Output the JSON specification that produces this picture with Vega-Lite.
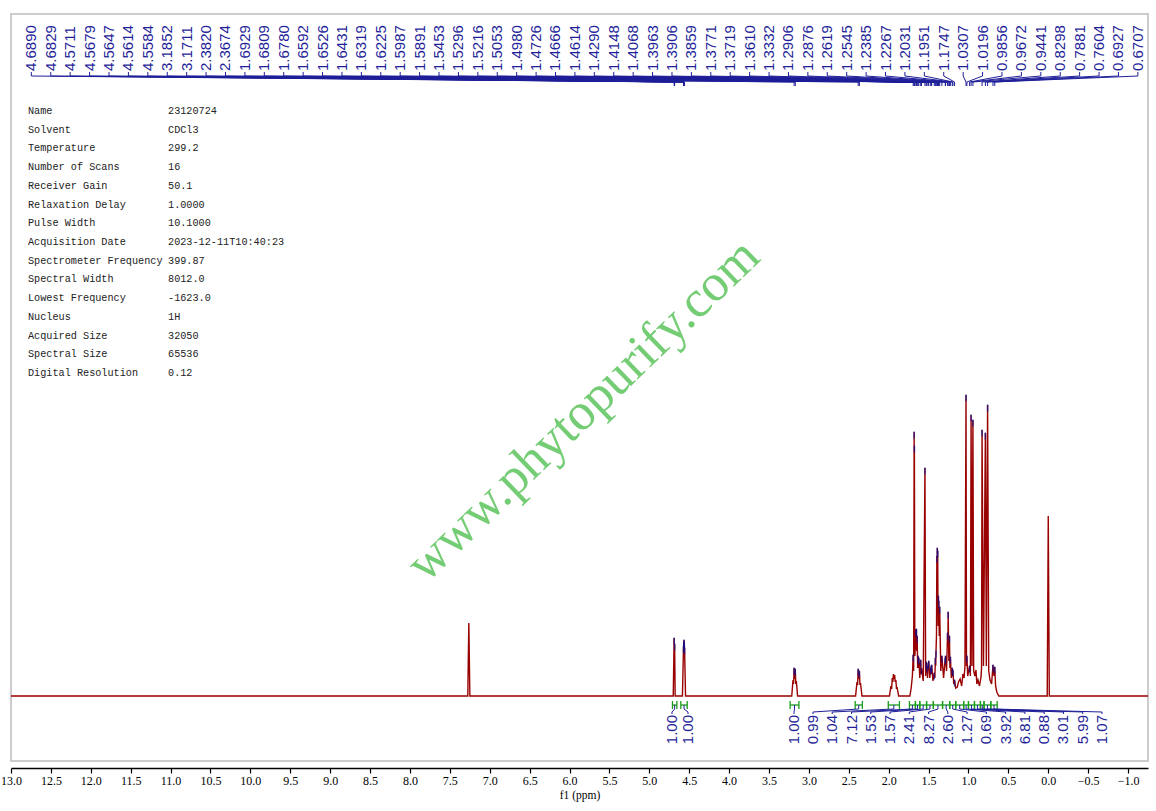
{
  "$schema": "https://vega.github.io/schema/vega-lite/v6.json",
  "width": 1137,
  "height": 747,
  "autosize": {"type": "none"},
  "padding": {"left": 11, "top": 14, "right": 8, "bottom": 50},
  "background": "white",
  "config": {"view": {"stroke": "#cccccc", "strokeWidth": 2}},
  "datasets": {
    "spectrum": [
      {"ppm": 13.0, "i": 0}, {"ppm": 7.275, "i": 0}, {"ppm": 7.262, "i": 73}, {"ppm": 7.249, "i": 0},
      {"ppm": 4.7, "i": 0}, {"ppm": 4.689, "i": 58}, {"ppm": 4.686, "i": 38}, {"ppm": 4.6829, "i": 52}, {"ppm": 4.676, "i": 0},
      {"ppm": 4.585, "i": 0}, {"ppm": 4.5711, "i": 50}, {"ppm": 4.5695, "i": 44}, {"ppm": 4.5679, "i": 54}, {"ppm": 4.5663, "i": 47},
      {"ppm": 4.5647, "i": 56}, {"ppm": 4.563, "i": 48}, {"ppm": 4.5614, "i": 53}, {"ppm": 4.5598, "i": 44}, {"ppm": 4.5584, "i": 48}, {"ppm": 4.546, "i": 0},
      {"ppm": 3.215, "i": 0}, {"ppm": 3.199, "i": 16}, {"ppm": 3.192, "i": 12}, {"ppm": 3.1852, "i": 28}, {"ppm": 3.178, "i": 17},
      {"ppm": 3.1711, "i": 27}, {"ppm": 3.164, "i": 12}, {"ppm": 3.157, "i": 15}, {"ppm": 3.142, "i": 0},
      {"ppm": 2.415, "i": 0}, {"ppm": 2.397, "i": 14}, {"ppm": 2.39, "i": 11}, {"ppm": 2.382, "i": 27}, {"ppm": 2.375, "i": 17},
      {"ppm": 2.3674, "i": 25}, {"ppm": 2.36, "i": 11}, {"ppm": 2.353, "i": 13}, {"ppm": 2.335, "i": 0},
      {"ppm": 1.99, "i": 0}, {"ppm": 1.972, "i": 10}, {"ppm": 1.963, "i": 7}, {"ppm": 1.955, "i": 18}, {"ppm": 1.948, "i": 14},
      {"ppm": 1.94, "i": 22}, {"ppm": 1.932, "i": 17}, {"ppm": 1.925, "i": 21}, {"ppm": 1.918, "i": 14}, {"ppm": 1.91, "i": 16},
      {"ppm": 1.902, "i": 7}, {"ppm": 1.895, "i": 9}, {"ppm": 1.875, "i": 0},
      {"ppm": 1.735, "i": 0}, {"ppm": 1.718, "i": 8}, {"ppm": 1.703, "i": 20}, {"ppm": 1.6929, "i": 41}, {"ppm": 1.687, "i": 25},
      {"ppm": 1.6809, "i": 264}, {"ppm": 1.6795, "i": 205}, {"ppm": 1.678, "i": 250}, {"ppm": 1.672, "i": 40}, {"ppm": 1.665, "i": 50},
      {"ppm": 1.6592, "i": 66}, {"ppm": 1.656, "i": 50}, {"ppm": 1.6526, "i": 67}, {"ppm": 1.648, "i": 45}, {"ppm": 1.6431, "i": 60},
      {"ppm": 1.637, "i": 28}, {"ppm": 1.6319, "i": 40}, {"ppm": 1.627, "i": 28}, {"ppm": 1.6225, "i": 38}, {"ppm": 1.61, "i": 18},
      {"ppm": 1.5987, "i": 36}, {"ppm": 1.594, "i": 22}, {"ppm": 1.5891, "i": 28}, {"ppm": 1.567, "i": 15}, {"ppm": 1.5453, "i": 228},
      {"ppm": 1.537, "i": 20}, {"ppm": 1.5296, "i": 34}, {"ppm": 1.5256, "i": 24}, {"ppm": 1.5216, "i": 30}, {"ppm": 1.513, "i": 18},
      {"ppm": 1.5053, "i": 33}, {"ppm": 1.502, "i": 26}, {"ppm": 1.498, "i": 35}, {"ppm": 1.485, "i": 18}, {"ppm": 1.4726, "i": 28},
      {"ppm": 1.4696, "i": 22}, {"ppm": 1.4666, "i": 30}, {"ppm": 1.464, "i": 24}, {"ppm": 1.4614, "i": 31}, {"ppm": 1.445, "i": 15},
      {"ppm": 1.429, "i": 23}, {"ppm": 1.421, "i": 18}, {"ppm": 1.4148, "i": 38}, {"ppm": 1.411, "i": 30}, {"ppm": 1.4068, "i": 45},
      {"ppm": 1.401, "i": 60}, {"ppm": 1.3963, "i": 140}, {"ppm": 1.393, "i": 120}, {"ppm": 1.3906, "i": 148}, {"ppm": 1.388, "i": 125},
      {"ppm": 1.3859, "i": 145}, {"ppm": 1.381, "i": 70}, {"ppm": 1.3771, "i": 100}, {"ppm": 1.375, "i": 80}, {"ppm": 1.3719, "i": 95},
      {"ppm": 1.366, "i": 60}, {"ppm": 1.361, "i": 89}, {"ppm": 1.347, "i": 25}, {"ppm": 1.3332, "i": 40}, {"ppm": 1.312, "i": 18},
      {"ppm": 1.2906, "i": 38}, {"ppm": 1.289, "i": 33}, {"ppm": 1.2876, "i": 40}, {"ppm": 1.275, "i": 25}, {"ppm": 1.2619, "i": 63},
      {"ppm": 1.258, "i": 50}, {"ppm": 1.2545, "i": 84}, {"ppm": 1.246, "i": 35}, {"ppm": 1.2385, "i": 60}, {"ppm": 1.232, "i": 28},
      {"ppm": 1.2267, "i": 39}, {"ppm": 1.215, "i": 18}, {"ppm": 1.2031, "i": 28}, {"ppm": 1.199, "i": 20}, {"ppm": 1.1951, "i": 26},
      {"ppm": 1.185, "i": 12}, {"ppm": 1.1747, "i": 16}, {"ppm": 1.16, "i": 8}, {"ppm": 1.14, "i": 9}, {"ppm": 1.125, "i": 14},
      {"ppm": 1.105, "i": 17}, {"ppm": 1.085, "i": 10}, {"ppm": 1.07, "i": 22}, {"ppm": 1.055, "i": 18}, {"ppm": 1.044, "i": 30},
      {"ppm": 1.0307, "i": 301}, {"ppm": 1.025, "i": 30}, {"ppm": 1.0196, "i": 40}, {"ppm": 1.01, "i": 20}, {"ppm": 0.9856, "i": 30},
      {"ppm": 0.976, "i": 20}, {"ppm": 0.9672, "i": 281}, {"ppm": 0.956, "i": 30}, {"ppm": 0.9441, "i": 276}, {"ppm": 0.935, "i": 25},
      {"ppm": 0.92, "i": 20}, {"ppm": 0.906, "i": 26}, {"ppm": 0.895, "i": 12}, {"ppm": 0.881, "i": 16}, {"ppm": 0.862, "i": 10},
      {"ppm": 0.843, "i": 19}, {"ppm": 0.836, "i": 28}, {"ppm": 0.8298, "i": 266}, {"ppm": 0.812, "i": 30}, {"ppm": 0.7881, "i": 263},
      {"ppm": 0.776, "i": 30}, {"ppm": 0.7604, "i": 291}, {"ppm": 0.746, "i": 25}, {"ppm": 0.73, "i": 16}, {"ppm": 0.71, "i": 12},
      {"ppm": 0.6927, "i": 31}, {"ppm": 0.681, "i": 20}, {"ppm": 0.6707, "i": 29}, {"ppm": 0.66, "i": 10}, {"ppm": 0.645, "i": 4},
      {"ppm": 0.62, "i": 0}, {"ppm": 0.013, "i": 0}, {"ppm": 0.0, "i": 180}, {"ppm": -0.013, "i": 0}, {"ppm": -1.25, "i": 0}
    ],
    "peaks": [
      {"ppm": 4.6890, "h": 58}, {"ppm": 4.6829, "h": 52}, {"ppm": 4.5711, "h": 50}, {"ppm": 4.5679, "h": 54}, {"ppm": 4.5647, "h": 56},
      {"ppm": 4.5614, "h": 53}, {"ppm": 4.5584, "h": 48}, {"ppm": 3.1852, "h": 28}, {"ppm": 3.1711, "h": 27}, {"ppm": 2.3820, "h": 27},
      {"ppm": 2.3674, "h": 25}, {"ppm": 1.6929, "h": 41}, {"ppm": 1.6809, "h": 264}, {"ppm": 1.6780, "h": 250}, {"ppm": 1.6592, "h": 66},
      {"ppm": 1.6526, "h": 67}, {"ppm": 1.6431, "h": 60}, {"ppm": 1.6319, "h": 40}, {"ppm": 1.6225, "h": 38}, {"ppm": 1.5987, "h": 36},
      {"ppm": 1.5891, "h": 28}, {"ppm": 1.5453, "h": 228}, {"ppm": 1.5296, "h": 34}, {"ppm": 1.5216, "h": 30}, {"ppm": 1.5053, "h": 33},
      {"ppm": 1.4980, "h": 35}, {"ppm": 1.4726, "h": 28}, {"ppm": 1.4666, "h": 30}, {"ppm": 1.4614, "h": 31}, {"ppm": 1.4290, "h": 23},
      {"ppm": 1.4148, "h": 38}, {"ppm": 1.4068, "h": 45}, {"ppm": 1.3963, "h": 140}, {"ppm": 1.3906, "h": 148}, {"ppm": 1.3859, "h": 145},
      {"ppm": 1.3771, "h": 100}, {"ppm": 1.3719, "h": 95}, {"ppm": 1.3610, "h": 89}, {"ppm": 1.3332, "h": 40}, {"ppm": 1.2906, "h": 38},
      {"ppm": 1.2876, "h": 40}, {"ppm": 1.2619, "h": 63}, {"ppm": 1.2545, "h": 84}, {"ppm": 1.2385, "h": 60}, {"ppm": 1.2267, "h": 39},
      {"ppm": 1.2031, "h": 28}, {"ppm": 1.1951, "h": 26}, {"ppm": 1.1747, "h": 16}, {"ppm": 1.0307, "h": 301}, {"ppm": 1.0196, "h": 40},
      {"ppm": 0.9856, "h": 30}, {"ppm": 0.9672, "h": 281}, {"ppm": 0.9441, "h": 276}, {"ppm": 0.8298, "h": 266}, {"ppm": 0.7881, "h": 263},
      {"ppm": 0.7604, "h": 291}, {"ppm": 0.6927, "h": 31}, {"ppm": 0.6707, "h": 29}
    ],
    "integrals": [
      {"from": 4.71, "to": 4.655, "value": 1.00}, {"from": 4.605, "to": 4.525, "value": 1.00}, {"from": 3.235, "to": 3.125, "value": 1.00},
      {"from": 2.42, "to": 2.33, "value": 0.99}, {"from": 2.005, "to": 1.865, "value": 1.04}, {"from": 1.74, "to": 1.665, "value": 7.12},
      {"from": 1.665, "to": 1.61, "value": 1.53}, {"from": 1.61, "to": 1.525, "value": 1.57}, {"from": 1.525, "to": 1.44, "value": 2.41},
      {"from": 1.44, "to": 1.325, "value": 8.27}, {"from": 1.325, "to": 1.235, "value": 2.60}, {"from": 1.235, "to": 1.16, "value": 1.27},
      {"from": 1.16, "to": 1.06, "value": 0.69}, {"from": 1.06, "to": 1.0, "value": 3.92}, {"from": 1.0, "to": 0.925, "value": 6.81},
      {"from": 0.925, "to": 0.85, "value": 0.88}, {"from": 0.85, "to": 0.805, "value": 3.01}, {"from": 0.805, "to": 0.72, "value": 5.99},
      {"from": 0.72, "to": 0.64, "value": 1.07}
    ],
    "params": [
      {"k": "Name", "v": "23120724"},
      {"k": "Solvent", "v": "CDCl3"},
      {"k": "Temperature", "v": "299.2"},
      {"k": "Number of Scans", "v": "16"},
      {"k": "Receiver Gain", "v": "50.1"},
      {"k": "Relaxation Delay", "v": "1.0000"},
      {"k": "Pulse Width", "v": "10.1000"},
      {"k": "Acquisition Date", "v": "2023-12-11T10:40:23"},
      {"k": "Spectrometer Frequency", "v": "399.87"},
      {"k": "Spectral Width", "v": "8012.0"},
      {"k": "Lowest Frequency", "v": "-1623.0"},
      {"k": "Nucleus", "v": "1H"},
      {"k": "Acquired Size", "v": "32050"},
      {"k": "Spectral Size", "v": "65536"},
      {"k": "Digital Resolution", "v": "0.12"}
    ]
  },
  "layer": [
    {
      "data": {"name": "spectrum"},
      "mark": {"type": "line", "color": "#990000", "strokeWidth": 1.4},
      "encoding": {
        "x": {
          "field": "ppm", "type": "quantitative", "title": "f1 (ppm)",
          "scale": {"domain": [13, -1.25], "nice": false, "zero": false},
          "axis": {
            "values": [13, 12.75, 12.5, 12.25, 12, 11.75, 11.5, 11.25, 11, 10.75, 10.5, 10.25, 10, 9.75, 9.5, 9.25, 9, 8.75, 8.5, 8.25, 8, 7.75, 7.5, 7.25, 7, 6.75, 6.5, 6.25, 6, 5.75, 5.5, 5.25, 5, 4.75, 4.5, 4.25, 4, 3.75, 3.5, 3.25, 3, 2.75, 2.5, 2.25, 2, 1.75, 1.5, 1.25, 1, 0.75, 0.5, 0.25, 0, -0.25, -0.5, -0.75, -1, -1.25],
            "labelExpr": "datum.value % 0.5 == 0 ? format(datum.value, '.1f') : ''",
            "offset": 7,
            "grid": false,
            "domainColor": "#000000",
            "domainWidth": 1.5,
            "tickColor": "#000000",
            "tickWidth": 1.2,
            "tickSize": {"condition": {"test": "datum.value % 0.5 == 0", "value": 5}, "value": 3},
            "labelFont": "Liberation Serif",
            "labelFontSize": 12,
            "labelColor": "#000000",
            "labelPadding": 2,
            "labelOverlap": false,
            "labelFlush": false,
            "titleFont": "Liberation Serif",
            "titleFontSize": 11.5,
            "titleFontWeight": "normal",
            "titleColor": "#000000",
            "titlePadding": 3
          }
        },
        "y": {"field": "i", "type": "quantitative", "axis": null, "scale": {"domain": [-65, 682], "nice": false, "zero": false}}
      }
    },
    {
      "data": {"values": [{"t": "www.phytopurify.com"}]},
      "mark": {"type": "text", "font": "Liberation Serif", "fontSize": 52, "color": "#74cc74", "angle": -44, "align": "center", "baseline": "middle"},
      "encoding": {
        "x": {"datum": 5.83, "type": "quantitative"},
        "y": {"datum": 286, "type": "quantitative", "axis": null},
        "text": {"field": "t"}
      }
    },
    {
      "data": {"name": "peaks"},
      "mark": {"type": "tick", "orient": "vertical", "color": "#10108c", "size": 7, "thickness": 1.5, "yOffset": 3},
      "encoding": {
        "x": {"field": "ppm", "type": "quantitative"},
        "y": {"field": "h", "type": "quantitative", "axis": null}
      }
    },
    {
      "data": {"name": "peaks"},
      "transform": [
        {"window": [{"op": "row_number", "as": "idx"}], "sort": [{"field": "ppm", "order": "descending"}]},
        {"calculate": "12.745 - 0.2433 * (datum.idx - 1)", "as": "slot"}
      ],
      "layer": [
        {
          "mark": {"type": "text", "angle": 270, "align": "left", "baseline": "middle", "font": "Liberation Sans", "fontSize": 15, "color": "#1f1f99"},
          "encoding": {
            "x": {"field": "slot", "type": "quantitative"},
            "y": {"datum": 625, "type": "quantitative", "axis": null},
            "text": {"field": "ppm", "type": "quantitative", "format": ".4f"}
          }
        },
        {
          "mark": {"type": "rule", "color": "#1f1f99", "strokeWidth": 1},
          "encoding": {
            "x": {"field": "slot", "type": "quantitative"},
            "y": {"datum": 624, "type": "quantitative", "axis": null},
            "y2": {"datum": 620}
          }
        },
        {
          "mark": {"type": "rule", "color": "#1f1f99", "strokeWidth": 1},
          "encoding": {
            "x": {"field": "slot", "type": "quantitative"},
            "x2": {"field": "ppm"},
            "y": {"datum": 620, "type": "quantitative", "axis": null},
            "y2": {"datum": 614}
          }
        },
        {
          "mark": {"type": "rule", "color": "#1f1f99", "strokeWidth": 1},
          "encoding": {
            "x": {"field": "ppm", "type": "quantitative"},
            "y": {"datum": 614, "type": "quantitative", "axis": null},
            "y2": {"datum": 610}
          }
        }
      ]
    },
    {
      "data": {"name": "integrals"},
      "mark": {"type": "rule", "color": "#1a9e1a", "strokeWidth": 1.3},
      "encoding": {
        "x": {"field": "from", "type": "quantitative"},
        "x2": {"field": "to"},
        "y": {"datum": -9, "type": "quantitative", "axis": null}
      }
    },
    {
      "data": {"name": "integrals"},
      "transform": [{"fold": ["from", "to"], "as": ["side", "pos"]}],
      "mark": {"type": "rule", "color": "#1a9e1a", "strokeWidth": 1.3},
      "encoding": {
        "x": {"field": "pos", "type": "quantitative"},
        "y": {"datum": -5, "type": "quantitative", "axis": null},
        "y2": {"datum": -13}
      }
    },
    {
      "data": {"name": "integrals"},
      "transform": [
        {"window": [{"op": "row_number", "as": "idx"}], "sort": [{"field": "from", "order": "descending"}]},
        {"calculate": "(datum.from + datum.to) / 2", "as": "mid"},
        {"calculate": "datum.idx <= 3 ? [4.716, 4.515, 3.187][datum.idx - 1] : 2.949 - 0.2415 * (datum.idx - 4)", "as": "slot"}
      ],
      "layer": [
        {
          "mark": {"type": "rule", "color": "#1f1f99", "strokeWidth": 1},
          "encoding": {
            "x": {"field": "mid", "type": "quantitative"},
            "y": {"datum": -9, "type": "quantitative", "axis": null},
            "y2": {"datum": -13}
          }
        },
        {
          "mark": {"type": "rule", "color": "#1f1f99", "strokeWidth": 1},
          "encoding": {
            "x": {"field": "mid", "type": "quantitative"},
            "x2": {"field": "slot"},
            "y": {"datum": -13, "type": "quantitative", "axis": null},
            "y2": {"datum": -16}
          }
        },
        {
          "mark": {"type": "rule", "color": "#1f1f99", "strokeWidth": 1},
          "encoding": {
            "x": {"field": "slot", "type": "quantitative"},
            "y": {"datum": -16, "type": "quantitative", "axis": null},
            "y2": {"datum": -18}
          }
        },
        {
          "mark": {"type": "text", "angle": 270, "align": "right", "baseline": "middle", "font": "Liberation Sans", "fontSize": 15, "color": "#1f1f99"},
          "encoding": {
            "x": {"field": "slot", "type": "quantitative"},
            "y": {"datum": -19, "type": "quantitative", "axis": null},
            "text": {"field": "value", "type": "quantitative", "format": ".2f"}
          }
        }
      ]
    },
    {
      "data": {"name": "params"},
      "transform": [
        {"window": [{"op": "row_number", "as": "row"}]},
        {"calculate": "585 - 18.71 * (datum.row - 1)", "as": "ty"}
      ],
      "layer": [
        {
          "mark": {"type": "text", "align": "left", "baseline": "middle", "font": "Liberation Mono", "fontSize": 10.2, "color": "#222222"},
          "encoding": {
            "x": {"datum": 12.787, "type": "quantitative"},
            "y": {"field": "ty", "type": "quantitative", "axis": null},
            "text": {"field": "k"}
          }
        },
        {
          "mark": {"type": "text", "align": "left", "baseline": "middle", "font": "Liberation Mono", "fontSize": 10.2, "color": "#222222"},
          "encoding": {
            "x": {"datum": 11.032, "type": "quantitative"},
            "y": {"field": "ty", "type": "quantitative", "axis": null},
            "text": {"field": "v"}
          }
        }
      ]
    }
  ]
}
